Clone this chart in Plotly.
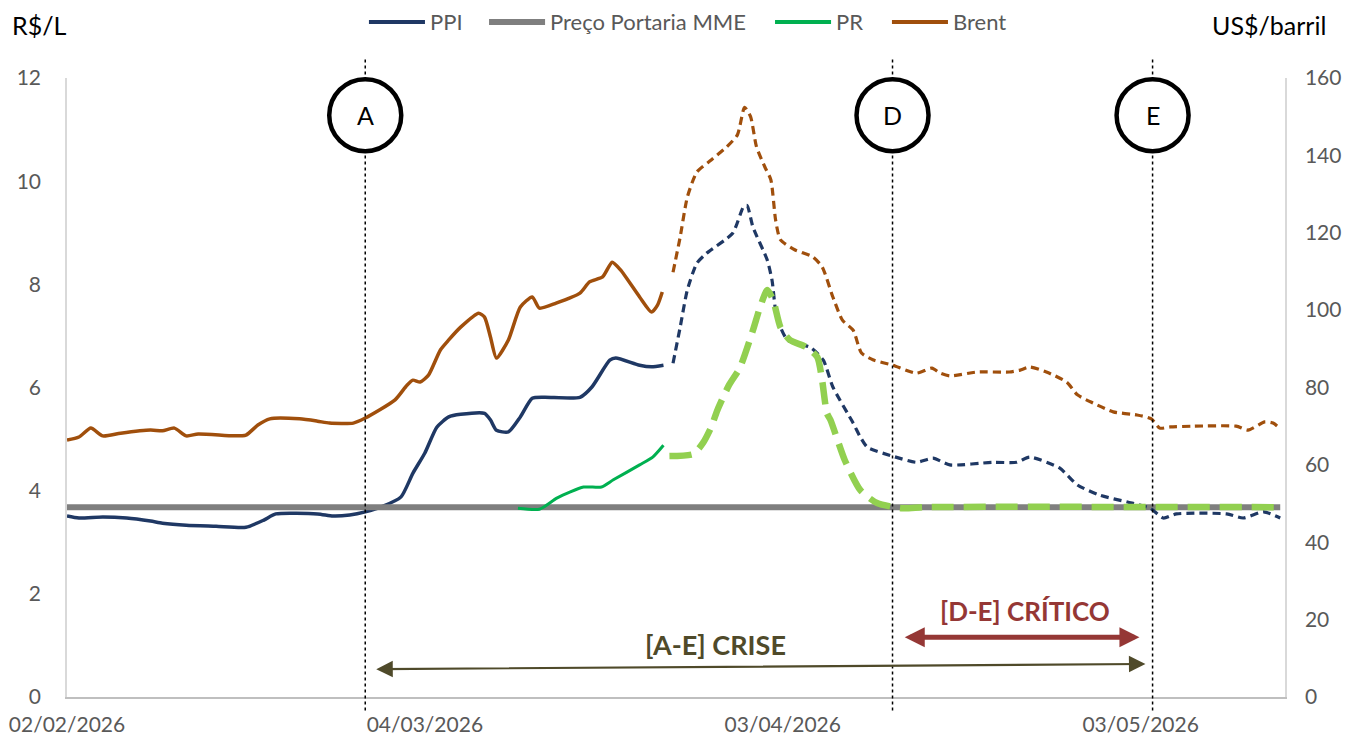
import pandas as pd
import plotly.graph_objects as go

# ---- data (days after 02/02/2026) ----
base_date = pd.Timestamp('2026-02-02')

brent_days = [0, 1, 2, 3, 4.5, 7, 8, 9, 10, 11, 14, 15, 16, 17, 19.5, 21, 22, 24, 25, 27.5,
              28.5, 29, 29.6, 30.3, 31.3, 32, 33, 34.5, 35, 35.5, 36, 37, 38, 39, 39.6, 41,
              43, 43.8, 44.9, 45.7, 46.4, 48, 49, 49.5, 49.9]
brent_vals = [66.4, 67.2, 69.5, 67.5, 68.2, 69.0, 68.8, 69.5, 67.5, 68.0, 67.5, 67.7, 70.3, 71.9,
              71.9, 71.3, 70.8, 70.8, 72.1, 76.8, 80.6, 81.9, 81.4, 83.2, 89.7, 92.3, 95.6, 99.2,
              98.2, 93.0, 87.6, 92.3, 100.8, 103.4, 100.5, 101.8, 104.4, 107.3, 108.6, 112.4,
              110.4, 103.4, 99.5, 101.3, 104.7]

brent_proj_days = [50.8, 51.4, 52, 52.8, 54, 55.3, 56.2, 56.8, 57.3, 57.8, 58.5, 59, 59.4, 59.8,
                   61, 62.5, 63.3, 64.2, 65, 65.9, 66.6, 67.6, 69.2, 71.2, 72.5, 73.2, 74, 76.3,
                   79, 79.9, 80.7, 82.1, 83.8, 84.7, 86, 87.7, 89.7, 90.9, 91.6, 92.5, 94.4, 98,
                   99, 100.4, 101.1, 101.7]
brent_proj_vals = [109.8, 118.9, 129.2, 135.7, 138.8, 142.2, 145.3, 152.4, 150.0, 142.2, 137.0,
                   133.7, 123.3, 118.2, 115.6, 113.8, 111.2, 103.4, 97.4, 94.8, 88.9, 87.1, 85.8,
                   83.7, 85.0, 83.7, 83.0, 84.0, 84.0, 84.5, 85.3, 84.0, 81.4, 78.1, 76.0, 73.7,
                   72.9, 71.9, 69.5, 69.8, 70.0, 70.0, 69.0, 71.1, 70.8, 69.3]

ppi_days = [0, 1, 3, 5, 7, 8, 10, 12.5, 15, 16.5, 17.5, 21, 22.3, 23.7, 25, 26.5, 28, 29, 30,
            31, 32, 33, 35, 35.5, 36, 37, 38, 39, 40, 43, 44, 45.5, 46, 48, 49, 50]
ppi_vals = [3.51, 3.47, 3.49, 3.47, 3.41, 3.37, 3.33, 3.31, 3.29, 3.43, 3.55, 3.55, 3.51, 3.53,
            3.59, 3.70, 3.88, 4.34, 4.73, 5.23, 5.43, 5.48, 5.50, 5.37, 5.17, 5.14, 5.43, 5.79,
            5.81, 5.81, 6.01, 6.53, 6.57, 6.43, 6.40, 6.43]

ppi_proj_days = [50.8, 51.4, 52, 52.8, 53.6, 55.8, 56.7, 57, 57.5, 58.7, 59.1, 59.5, 60.4, 62.3,
                 63.4, 64.2, 65.9, 66.5, 67.1, 69.2, 71.2, 72.6, 74, 77.6, 79.6, 80.7, 83.2,
                 84.7, 86.6, 88.9, 90.8, 91.9, 93, 97.2, 98.6, 100.3, 101.7]
ppi_proj_vals = [6.47, 7.17, 7.89, 8.41, 8.60, 8.99, 9.50, 9.53, 9.11, 8.47, 8.08, 7.36, 6.92,
                 6.78, 6.53, 6.01, 5.31, 5.04, 4.84, 4.67, 4.55, 4.63, 4.50, 4.55, 4.55, 4.65,
                 4.44, 4.11, 3.91, 3.78, 3.66, 3.47, 3.55, 3.55, 3.47, 3.59, 3.47]

pr_days = [37.8, 39.6, 41.1, 43.3, 44.8, 45.8, 48, 49.1, 50]
pr_vals = [3.66, 3.64, 3.86, 4.07, 4.07, 4.21, 4.50, 4.65, 4.88]

pr_proj_days = [50.5, 52.5, 53.3, 54, 54.5, 55.5, 56.4, 57.5, 58.1, 58.7, 59.2, 59.8, 60.6, 62,
                62.9, 63.3, 63.7, 64, 65.2, 66.5, 67.9, 70, 72, 101.7]
pr_proj_vals = [4.67, 4.71, 4.92, 5.23, 5.55, 6.05, 6.38, 7.11, 7.56, 7.89, 7.69, 7.17, 6.92,
                6.78, 6.59, 6.14, 5.50, 5.37, 4.59, 4.01, 3.76, 3.66, 3.68, 3.68]

portaria_days = [0, 101.7]
portaria_vals = [3.68, 3.68]

tick_days = [0, 30, 60, 90]
tick_text = ['02/02/2026', '04/03/2026', '03/04/2026', '03/05/2026']

marker_days = [25, 69.2, 91]
marker_labels = ['A', 'D', 'E']

legend_names = ['PPI', 'Preço Portaria MME', 'PR', 'Brent']


def to_dates(days):
    return base_date + pd.to_timedelta(days, unit='D')


FONT = 'Lato'
GREY_TXT = '#595959'
BROWN = '#A04F0C'
NAVY = '#1F3864'
GREY_LINE = '#7F7F7F'
GREEN = '#00B050'

fig = go.Figure()

fig.add_trace(go.Scatter(x=to_dates(ppi_days), y=ppi_vals, name='PPI', mode='lines',
                         line=dict(color=NAVY, width=3.5, shape='spline', smoothing=0.6)))
fig.add_trace(go.Scatter(x=to_dates(portaria_days), y=portaria_vals, name='Preço Portaria MME',
                         mode='lines', line=dict(color=GREY_LINE, width=6)))
fig.add_trace(go.Scatter(x=to_dates(pr_days), y=pr_vals, name='PR', mode='lines',
                         line=dict(color=GREEN, width=3, shape='spline', smoothing=0.6)))
fig.add_trace(go.Scatter(x=to_dates(brent_days), y=brent_vals, name='Brent', mode='lines',
                         yaxis='y2',
                         line=dict(color=BROWN, width=3.5, shape='spline', smoothing=0.6)))

fig.add_trace(go.Scatter(x=to_dates(brent_proj_days), y=brent_proj_vals, mode='lines',
                         yaxis='y2',
                         line=dict(color=BROWN, width=3.2, dash='8px,5px',
                                   shape='spline', smoothing=0.6)))
fig.add_trace(go.Scatter(x=to_dates(ppi_proj_days), y=ppi_proj_vals, mode='lines',
                         line=dict(color=NAVY, width=3.2, dash='8px,5px',
                                   shape='spline', smoothing=0.6)))
fig.add_trace(go.Scatter(x=to_dates(pr_proj_days), y=pr_proj_vals, mode='lines',
                         line=dict(color='#92D050', width=6.5, dash='22px,10px',
                                   shape='spline', smoothing=0.6)))

# legend drawn by hand so the entries sit where the original puts them
legend_colors = [NAVY, GREY_LINE, GREEN, BROWN]
legend_widths = [4, 6, 4, 4]
legend_x = [0.2479, 0.3465, 0.5813, 0.6773]
for name, col, w, lx in zip(legend_names, legend_colors, legend_widths, legend_x):
    fig.add_shape(type='line', xref='paper', yref='paper', x0=lx, x1=lx + 0.046,
                  y0=1.0905, y1=1.0905, line=dict(color=col, width=w))
    fig.add_annotation(x=lx + 0.0485, y=1.0905, xref='paper', yref='paper', text=name,
                       showarrow=False, xanchor='left', yanchor='middle',
                       font=dict(family=FONT, size=22, color=GREY_TXT))

# vertical markers A, D, E
for d in marker_days:
    xd = to_dates([d])[0]
    fig.add_shape(type='line', xref='x', yref='paper', x0=xd, x1=xd, y0=-0.022, y1=1.03,
                  line=dict(color='black', width=1.5, dash='dot'), layer='above')
for d, lab in zip(marker_days, marker_labels):
    xd = to_dates([d])[0]
    fig.add_shape(type='circle', xref='x', yref='paper', xsizemode='pixel', ysizemode='pixel',
                  xanchor=xd, yanchor=0.940, x0=-36, x1=36, y0=-36, y1=36,
                  fillcolor='white', line=dict(color='black', width=4.5), layer='above')
    fig.add_annotation(x=xd, y=0.940, xref='x', yref='paper', text=lab, showarrow=False,
                       xanchor='center', yanchor='middle',
                       font=dict(family=FONT, size=25, color='black'))

# period arrows
fig.add_annotation(x=to_dates([90.4])[0], y=0.64, ax=to_dates([25.8])[0], ay=0.54,
                   xref='x', yref='y', axref='x', ayref='y', text='', showarrow=True,
                   arrowhead=2, startarrowhead=2, arrowside='end+start', arrowsize=1.5,
                   startarrowsize=1.5, arrowwidth=2.2, arrowcolor='#4F4A2A')
fig.add_annotation(x=to_dates([89.9])[0], y=1.16, ax=to_dates([70.1])[0], ay=1.16,
                   xref='x', yref='y', axref='x', ayref='y', text='', showarrow=True,
                   arrowhead=2, startarrowhead=2, arrowside='end+start', arrowsize=0.8,
                   startarrowsize=0.8, arrowwidth=5, arrowcolor='#953735')
fig.add_annotation(x=to_dates([54.4])[0], y=1.01, xref='x', yref='y',
                   text='<b>[A-E] CRISE</b>', showarrow=False, yanchor='middle',
                   font=dict(family=FONT, size=27, color='#4F4A2A'))
fig.add_annotation(x=to_dates([80.3])[0], y=1.66, xref='x', yref='y',
                   text='<b>[D-E] CRÍTICO</b>', showarrow=False, yanchor='middle',
                   font=dict(family=FONT, size=26, color='#953735'))

# axis unit labels
fig.add_annotation(x=-0.047, y=1.0856, xref='paper', yref='paper', text='R$/L',
                   showarrow=False, xanchor='left', yanchor='middle',
                   font=dict(family=FONT, size=25, color='black'))
fig.add_annotation(x=1.0353, y=1.0856, xref='paper', yref='paper', text='US$/barril',
                   showarrow=False, xanchor='right', yanchor='middle',
                   font=dict(family=FONT, size=25, color='black'))

# page body has an 8px margin, so the figure is 8px smaller on each side
fig.update_layout(
    width=1361, height=732,
    margin=dict(l=59, r=84, t=70, b=43, autoexpand=False),
    plot_bgcolor='white', paper_bgcolor='white',
    font=dict(family=FONT, size=21, color=GREY_TXT),
    showlegend=False,
    xaxis=dict(type='date', range=[to_dates([0])[0], to_dates([102.1])[0]],
               tickmode='array', tickvals=list(to_dates(tick_days)), ticktext=tick_text,
               showgrid=False, zeroline=False, showline=True, linecolor='#BFBFBF',
               linewidth=2, ticks='', ticklabelstandoff=8,
               tickfont=dict(size=21, color=GREY_TXT)),
    yaxis=dict(range=[0, 12], dtick=2, showgrid=False, zeroline=False, showline=True,
               linecolor='#D9D9D9', linewidth=1.5, ticks='', ticklabelstandoff=20,
               tickfont=dict(size=21, color=GREY_TXT)),
    yaxis2=dict(range=[0, 160], dtick=20, overlaying='y', side='right', showgrid=False,
                zeroline=False, showline=True, linecolor='#D9D9D9', linewidth=1.5, ticks='',
                ticklabelstandoff=14, tickfont=dict(size=21, color=GREY_TXT)),
)

fig.write_html('out.html')
